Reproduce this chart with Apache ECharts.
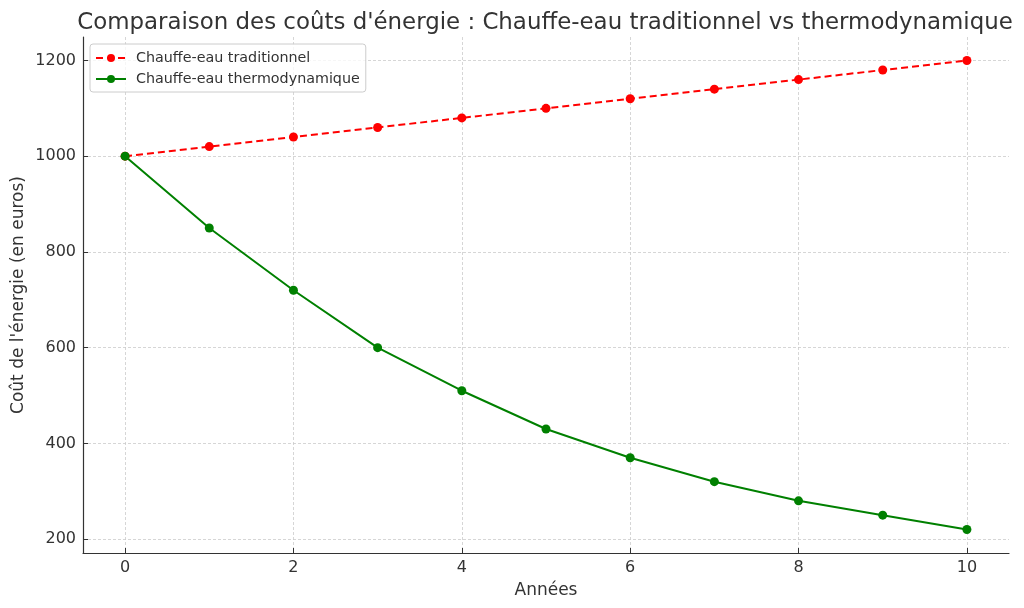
<!DOCTYPE html>
<html><head><meta charset="utf-8">
<script src="https://cdn.jsdelivr.net/npm/echarts@6/dist/echarts.min.js"></script>
<style>html,body{margin:0;padding:0;background:#fff}#c{width:1024px;height:608px}</style>
</head><body><div id="c"></div>
<script>
const years = [0,1,2,3,4,5,6,7,8,9,10];
const traditionnel = [1000,1020,1040,1060,1080,1100,1120,1140,1160,1180,1200];
const thermodynamique = [1000,850,720,600,510,430,370,320,280,250,220];
const xTicks = [0,2,4,6,8,10];
const yTicks = [200,400,600,800,1000,1200];
const titleText = "Comparaison des coûts d'énergie : Chauffe-eau traditionnel vs thermodynamique";
const font = 'DejaVu Sans';
const chart = echarts.init(document.getElementById('c'));
const gridLine = {show:true, lineStyle:{color:'#cccccc', type:[3,2], width:0.8}};
chart.setOption({
  animation:false,
  textStyle:{fontFamily:font},
  title:{text:titleText, left:540, top:7, textAlign:'center', textStyle:{fontFamily:font, fontSize:22.9, fontWeight:'normal', color:'#333333'}},
  legend:{left:90, top:44, orient:'vertical', itemGap:7, itemWidth:30, itemHeight:10,
    padding:[7,6,6,5], borderColor:'#cccccc', borderWidth:1, borderRadius:3, backgroundColor:'rgba(255,255,255,0.8)',
    textStyle:{fontFamily:font, fontSize:14.3, color:'#333333', padding:[0,0,0,5]},
    data:[{name:'Chauffe-eau traditionnel'},{name:'Chauffe-eau thermodynamique'}]},
  grid:{left:83, right:15, top:37, bottom:55, containLabel:false, outerBoundsMode:'none'},
  xAxis:{type:'value', min:-0.5, max:10.5, name:'Années', nameLocation:'middle', nameGap:29, nameMoveOverlap:false,
    nameTextStyle:{fontFamily:font, fontSize:17, color:'#333333'},
    axisLine:{show:true, onZero:false, lineStyle:{color:'#333333', width:1.2}},
    axisTick:{show:true, inside:true, length:5, customValues:xTicks, lineStyle:{color:'#333333'}},
    axisLabel:{customValues:xTicks, fontFamily:font, fontSize:16, color:'#333333', margin:7, formatter:v=>String(v)},
    splitLine:gridLine},
  yAxis:{type:'value', min:171, max:1249, name:"Coût de l'énergie (en euros)", nameLocation:'middle', nameGap:56, nameMoveOverlap:false,
    nameTextStyle:{fontFamily:font, fontSize:17, color:'#333333'},
    axisLine:{show:true, onZero:false, lineStyle:{color:'#333333', width:1.2}},
    axisTick:{show:true, inside:true, length:5, customValues:yTicks, lineStyle:{color:'#333333'}},
    axisLabel:{customValues:yTicks, fontFamily:font, fontSize:16, color:'#333333', margin:7, formatter:v=>String(v)},
    splitLine:gridLine},
  series:[
    {name:'Chauffe-eau traditionnel', type:'line', data:years.map((x,i)=>[x,traditionnel[i]]),
      symbol:'circle', symbolSize:9, color:'#ff0000',
      lineStyle:{color:'#ff0000', width:2, type:[7,4]}, itemStyle:{color:'#ff0000'}},
    {name:'Chauffe-eau thermodynamique', type:'line', data:years.map((x,i)=>[x,thermodynamique[i]]),
      symbol:'circle', symbolSize:9, color:'#008000',
      lineStyle:{color:'#008000', width:2}, itemStyle:{color:'#008000'}}
  ]
});
</script></body></html>
